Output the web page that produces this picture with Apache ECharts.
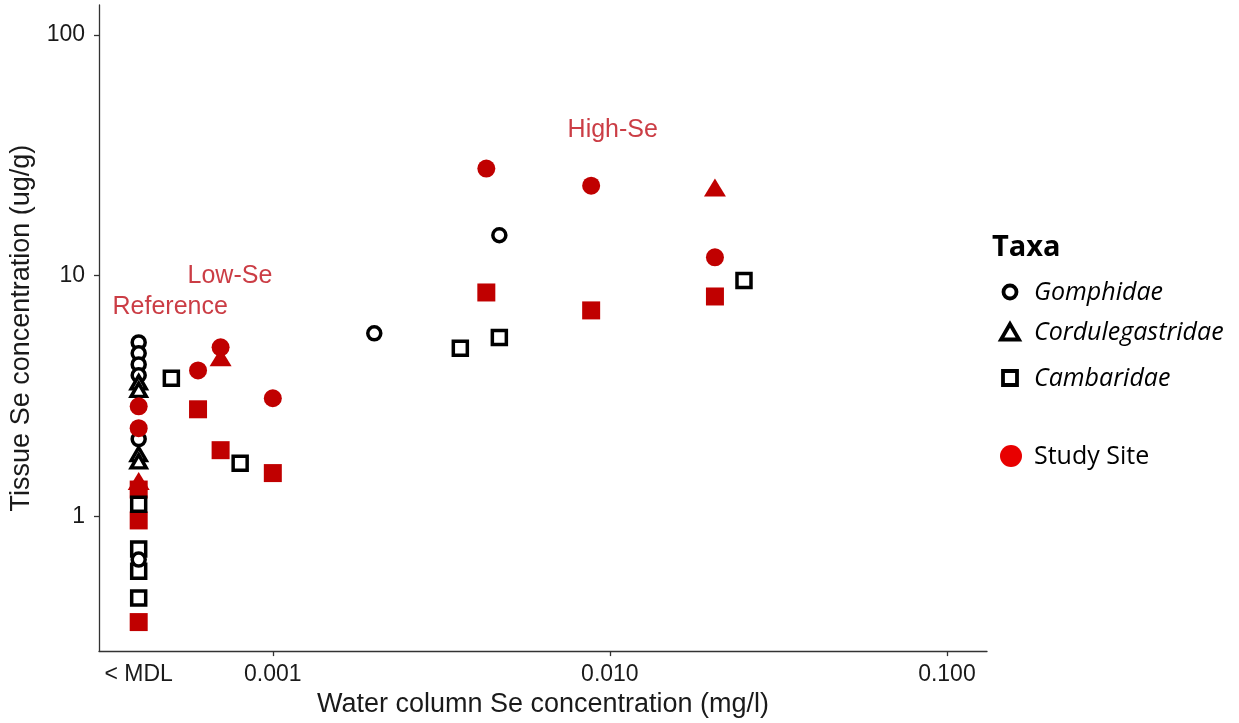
<!DOCTYPE html>
<html>
<head>
<meta charset="utf-8">
<script src="https://cdn.jsdelivr.net/npm/echarts@6/dist/echarts.min.js"></script>
<style>
  html, body { margin: 0; padding: 0; background: #fff; }
  #chart { width: 1239px; height: 723px; }
</style>
</head>
<body>
<div id="chart"></div>
<script>
// Samples below the method detection limit are placed at this water value
const MDL = 0.0004;

// Reference / comparison sites (open black symbols): [water mg/l, tissue ug/g]
const gomphidae = [[MDL, 5.27], [MDL, 4.75], [MDL, 4.27], [MDL, 3.85], [MDL, 2.09], [MDL, 0.66],
                   [0.002, 5.75], [0.0047, 14.7]];
const cordulegastridae = [[MDL, 3.6], [MDL, 3.35], [MDL, 1.81], [MDL, 1.69]];
const cambaridae = [[MDL, 1.12], [MDL, 0.73], [MDL, 0.59], [MDL, 0.457], [0.0005, 3.74],
                    [0.0008, 1.66], [0.0036, 4.98], [0.0047, 5.53], [0.025, 9.53]];

// Study sites (filled red symbols)
const studyGomphidae = [[MDL, 2.86], [MDL, 2.32], [0.0006, 4.03], [0.0007, 5.03], [0.001, 3.09],
                        [0.0043, 27.8], [0.0088, 23.6], [0.0205, 11.9]];
const studyCordulegastridae = [[MDL, 1.40], [0.0007, 4.57], [0.0205, 23.2]];
const studyCambaridae = [[MDL, 1.29], [MDL, 0.96], [MDL, 0.363], [0.0006, 2.78], [0.0007, 1.88],
                         [0.001, 1.51], [0.0043, 8.5], [0.0088, 7.16], [0.0205, 8.18]];

// Site-group annotations placed in data space
const groupLabels = [['Reference', 0.000496, 7.37], ['Low-Se', 0.000746, 9.9], ['High-Se', 0.0102, 40]];

// Axis ticks
const xTickValues = [MDL, 0.001, 0.01, 0.1];
const xTickLabels = ['< MDL', '0.001', '0.010', '0.100'];
const yTickValues = [1, 10, 100];
const yTickLabels = ['1', '10', '100'];

// Legend entries
const taxaNames = ['Gomphidae', 'Cordulegastridae', 'Cambaridae'];
const siteName = 'Study Site';

const RED = '#c00000';
const AXIS = '#333';
const FONT = '"Liberation Sans", Arial, sans-serif';
const LEG_FONT = '"Open Sans", "Noto Sans", sans-serif';

function nearest(values, v) {
  let best = 0;
  values.forEach((t, i) => {
    if (Math.abs(Math.log10(t) - Math.log10(v)) < Math.abs(Math.log10(values[best]) - Math.log10(v))) best = i;
  });
  return best;
}

function openSeries(name, symbol, size, data) {
  return {
    type: 'scatter', name, symbol, symbolSize: size, data,
    itemStyle: { color: '#fff', borderColor: '#000', borderWidth: 3.5, opacity: 1 },
    emphasis: { disabled: true }
  };
}
function filledSeries(name, symbol, size, data) {
  return {
    type: 'scatter', name, symbol, symbolSize: size, data,
    itemStyle: { color: RED, opacity: 1 },
    emphasis: { disabled: true }
  };
}

const chart = echarts.init(document.getElementById('chart'), null, { renderer: 'canvas' });

const option = {
  animation: false,
  backgroundColor: '#fff',
  grid: { left: 98, right: 252, top: 5, bottom: 71, containLabel: false },
  xAxis: {
    type: 'log', logBase: 10, min: 0.000305, max: 0.1315,
    axisLine: { show: true, lineStyle: { color: AXIS, width: 1.3 } },
    axisTick: { show: true, length: 5, customValues: xTickValues.slice(1), lineStyle: { color: AXIS, width: 1.3 } },
    minorTick: { show: false },
    splitLine: { show: false },
    axisLabel: {
      customValues: xTickValues,
      margin: 12,
      fontSize: 23, color: '#1a1a1a', fontFamily: FONT,
      formatter: v => xTickLabels[nearest(xTickValues, v)]
    },
    name: 'Water column Se concentration (mg/l)',
    nameLocation: 'middle', nameGap: 37,
    nameTextStyle: { fontSize: 27, color: '#1a1a1a', fontFamily: FONT }
  },
  yAxis: {
    type: 'log', logBase: 10, min: 0.275, max: 133,
    axisLine: { show: true, lineStyle: { color: AXIS, width: 1.3 } },
    axisTick: { show: true, length: 5, customValues: yTickValues, lineStyle: { color: AXIS, width: 1.3 } },
    minorTick: { show: false },
    splitLine: { show: false },
    axisLabel: {
      customValues: yTickValues,
      margin: 14,
      fontSize: 23, color: '#1a1a1a', fontFamily: FONT,
      formatter: v => yTickLabels[nearest(yTickValues, v)]
    },
    name: 'Tissue Se concentration (ug/g)',
    nameLocation: 'middle', nameGap: 64,
    nameTextStyle: { fontSize: 27, color: '#1a1a1a', fontFamily: FONT }
  },
  series: [
    filledSeries('Study Cambaridae', 'rect', 18, studyCambaridae),
    openSeries('Cambaridae', 'rect', 14, cambaridae),
    openSeries('Gomphidae', 'circle', 13, gomphidae),
    openSeries('Cordulegastridae', 'triangle', [15, 13], cordulegastridae),
    filledSeries('Study Gomphidae', 'circle', 18, studyGomphidae),
    filledSeries('Study Cordulegastridae', 'triangle', [22, 18], studyCordulegastridae),
    {
      type: 'scatter', name: 'groups', symbolSize: 0, silent: true,
      data: groupLabels.map(g => ({ name: g[0], value: [g[1], g[2]] })),
      label: {
        show: true, position: 'inside', formatter: p => p.name,
        fontSize: 25, color: '#be0d17', fontFamily: FONT
      }
    }
  ],
  graphic: [
    { type: 'text', left: 992, top: 233, style: { text: 'Taxa', font: 'bold 29px ' + LEG_FONT, fill: '#000' } },
    { type: 'circle', shape: { cx: 1010, cy: 292, r: 6.5 }, style: { fill: '#fff', stroke: '#000', lineWidth: 3.8 } },
    { type: 'polygon', shape: { points: [[1010, 324], [1001, 339.5], [1019, 339.5]] }, style: { fill: '#fff', stroke: '#000', lineWidth: 3.8 } },
    { type: 'rect', shape: { x: 1003, y: 371, width: 14, height: 14 }, style: { fill: '#fff', stroke: '#000', lineWidth: 3.8 } },
    { type: 'circle', shape: { cx: 1011, cy: 456, r: 11 }, style: { fill: '#e80000' } },
    { type: 'text', left: 1034, top: 280, style: { text: taxaNames[0], font: 'italic 25px ' + LEG_FONT, fill: '#000' } },
    { type: 'text', left: 1034, top: 320, style: { text: taxaNames[1], font: 'italic 25px ' + LEG_FONT, fill: '#000' } },
    { type: 'text', left: 1034, top: 366, style: { text: taxaNames[2], font: 'italic 25px ' + LEG_FONT, fill: '#000' } },
    { type: 'text', left: 1034, top: 444, style: { text: siteName, font: '25px ' + LEG_FONT, fill: '#000' } }
  ]
};

chart.setOption(option);
</script>
</body>
</html>
